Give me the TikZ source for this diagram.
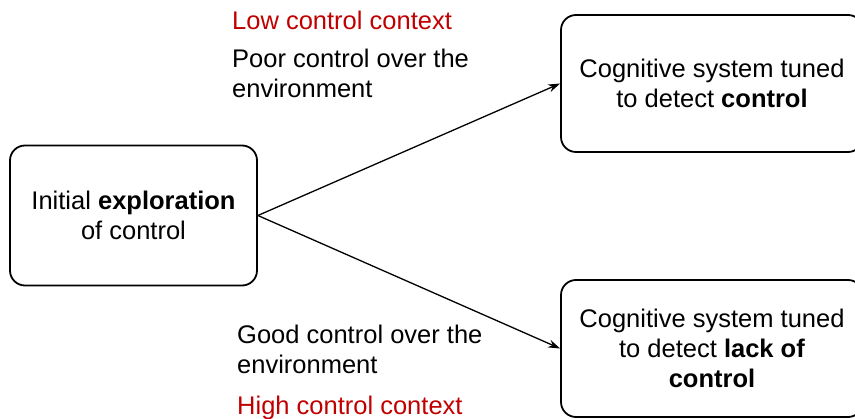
\documentclass[tikz,border=0pt]{standalone}
\usepackage{fontspec}
\setmainfont{Liberation Sans}
\usetikzlibrary{arrows.meta}
\definecolor{ctxred}{RGB}{192,0,0}

\begin{document}
\begin{tikzpicture}[x=1pt,y=-1pt,
    box/.style={draw, line width=1.8pt, rounded corners=15pt, align=center,
        font=\fontsize{25.5}{30}\selectfont},
    note/.style={inner sep=0pt, align=left, anchor=base west,
        font=\fontsize{25.5}{30}\selectfont},
    link/.style={-{Stealth[length=12pt,width=8pt]}, line width=1.3pt}]
    \useasboundingbox (0,0) rectangle (855,419);

    % Boxes
    \node[box, minimum width=247pt, minimum height=140pt] (explore) at (133.5,215.5)
        {Initial \textbf{exploration}\\of control};
    \node[box, minimum width=302pt, minimum height=137pt] (tuned) at (712,83.5)
        {Cognitive system tuned\\to detect \textbf{control}};
    \node[box, minimum width=302pt, minimum height=137pt] (lack) at (712,348.5)
        {Cognitive system tuned\\to detect \textbf{lack of}\\\textbf{control}};

    % Context labels (base is the last line)
    \node[note, ctxred] (lowctx) at (232,30) {Low control context};
    \node[note] (poorenv) at (232,98) {Poor control over the\\environment};
    \node[note] (goodenv) at (237,374) {Good control over the\\environment};
    \node[note, ctxred] (highctx) at (237,415) {High control context};

    % Arrows
    \draw[link] (explore.east) -- (tuned.west);
    \draw[link] (explore.east) -- (lack.west);
\end{tikzpicture}
\end{document}
